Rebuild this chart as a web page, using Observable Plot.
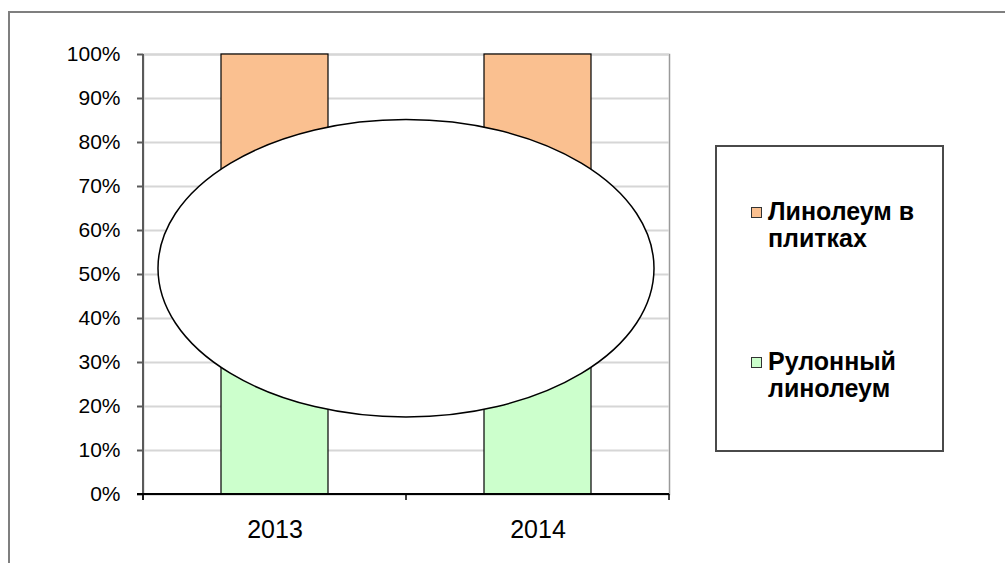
<!DOCTYPE html>
<html>
<head>
<meta charset="utf-8">
<script src="https://cdn.jsdelivr.net/npm/d3@7"></script>
<script src="https://cdn.jsdelivr.net/npm/@observablehq/plot@0.6"></script>
<style>
  html, body { margin: 0; padding: 0; background: #fff; }
  #wrap { position: relative; width: 1005px; height: 563px; overflow: hidden; font-family: "Liberation Sans", Arial, sans-serif; }
  #outer { position: absolute; left: 8px; top: 11px; width: 1100px; height: 700px; border: 2px solid #7f7f7f; box-sizing: border-box; }
  #chart { position: absolute; left: 0; top: 0; }
  #legend { position: absolute; left: 715px; top: 145px; width: 229px; height: 307px; border: 2px solid #4a4a4a; box-sizing: border-box; background: #fff; }
  .item { position: absolute; left: 51px; font-weight: bold; font-size: 25px; line-height: 27px; color: #000; white-space: nowrap; }
  .sw { position: absolute; left: -17px; top: 9px; width: 11px; height: 11px; border: 1px solid #333; box-sizing: border-box; }
</style>
</head>
<body>
<div id="wrap">
  <div id="outer"></div>
  <div id="chart"></div>
  <div id="legend"></div>
</div>
<script>
// Data
const years = ["2013", "2014"];
const seriesNames = ["Рулонный линолеум", "Линолеум в плитках"];
const legendLines = [["Линолеум в", "плитках"], ["Рулонный", "линолеум"]];
const rolledShare = [52, 55];   // hidden under the ellipse, estimated
const tileShare = [48, 45];     // hidden under the ellipse, estimated
const seriesColors = ["#CCFFCC", "#FAC090"];
const yTicks = [0, 10, 20, 30, 40, 50, 60, 70, 80, 90, 100];
// Overlay ellipse (in data units)
const ellipseCenterPct = 51.3;
const ellipseHalfHeightPct = 33.8;
const ellipseHalfWidthSteps = 0.943;

const rows = [];
years.forEach((yr, i) => {
  rows.push({year: yr, series: seriesNames[0], value: rolledShare[i]});
  rows.push({year: yr, series: seriesNames[1], value: tileShare[i]});
});

const NS = "http://www.w3.org/2000/svg";
function el(tag, attrs) {
  const e = document.createElementNS(NS, tag);
  for (const k in attrs) e.setAttribute(k, attrs[k]);
  return e;
}

// left axis line
const leftAxisLine = (index, scales, values, dims) => {
  const g = el("g", {});
  g.appendChild(el("line", {x1: dims.marginLeft, x2: dims.marginLeft, y1: scales.y(100), y2: scales.y(0) + 6, stroke: "#5a5a5a", "stroke-width": 2}));
  return g;
};

// bottom axis with ticks at category boundaries
const bottomAxis = (index, scales, values, dims) => {
  const x = scales.x;
  const bw = x.bandwidth();
  const step = x.step();
  const y0 = scales.y(0);
  const g = el("g", {});
  g.appendChild(el("line", {x1: dims.marginLeft - 6, x2: dims.width - dims.marginRight, y1: y0, y2: y0, stroke: "#000", "stroke-width": 2}));
  const bounds = years.map(d => x(d) + bw / 2 - step / 2);
  bounds.push(x(years[years.length - 1]) + bw / 2 + step / 2);
  bounds.forEach(b => g.appendChild(el("line", {x1: b, x2: b, y1: y0, y2: y0 + 6, stroke: "#000", "stroke-width": 1.5})));
  return g;
};

// overlay ellipse
const overlayEllipse = (index, scales) => {
  const x = scales.x;
  const bw = x.bandwidth();
  const step = x.step();
  const c1 = x(years[0]) + bw / 2, c2 = x(years[1]) + bw / 2;
  const cx = (c1 + c2) / 2;
  const cy = scales.y(ellipseCenterPct);
  const ry = scales.y(ellipseCenterPct - ellipseHalfHeightPct) - cy;
  return el("ellipse", {cx, cy, rx: ellipseHalfWidthSteps * step, ry, fill: "#fff", stroke: "#000", "stroke-width": 1.5});
};

const chart = Plot.plot({
  width: 1005,
  height: 563,
  marginLeft: 143,
  marginRight: 336,
  marginTop: 54,
  marginBottom: 69,
  style: {fontFamily: "'Liberation Sans', Arial, sans-serif", background: "transparent", color: "#000"},
  x: {domain: years, paddingInner: 0.593, paddingOuter: 0.2965, axis: null, label: null},
  y: {domain: [0, 100], axis: null, label: null},
  color: {domain: seriesNames, range: seriesColors},
  marks: [
    Plot.frame({stroke: "#9a9a9a", strokeWidth: 1.5}),
    Plot.gridY(yTicks, {stroke: "#d6d6d6", strokeOpacity: 1, strokeWidth: 2}),
    Plot.barY(rows, Plot.stackY({x: "year", y: "value", fill: "series", order: seriesNames, stroke: "#000", strokeWidth: 1.2})),
    overlayEllipse,
    leftAxisLine,
    Plot.axisY(yTicks, {anchor: "left", label: null, tickSize: 6, tickPadding: 17, stroke: "#5a5a5a", strokeWidth: 2, fontSize: 21, tickFormat: d => d + "%", fill: "#000"}),
    bottomAxis,
    Plot.axisX(years, {anchor: "bottom", label: null, tickSize: 0, tickPadding: 26, fontSize: 25, fill: "#000"})
  ]
});
document.getElementById("chart").appendChild(chart);

// legend
const legend = document.getElementById("legend");
const legendOrder = [1, 0];
const legendTops = [51, 201];
legendOrder.forEach((si, k) => {
  const item = document.createElement("div");
  item.className = "item";
  item.style.top = legendTops[k] + "px";
  item.innerHTML = legendLines[k].join("<br>");
  const sw = document.createElement("div");
  sw.className = "sw";
  sw.style.background = seriesColors[si];
  item.appendChild(sw);
  legend.appendChild(item);
});
</script>
</body>
</html>
